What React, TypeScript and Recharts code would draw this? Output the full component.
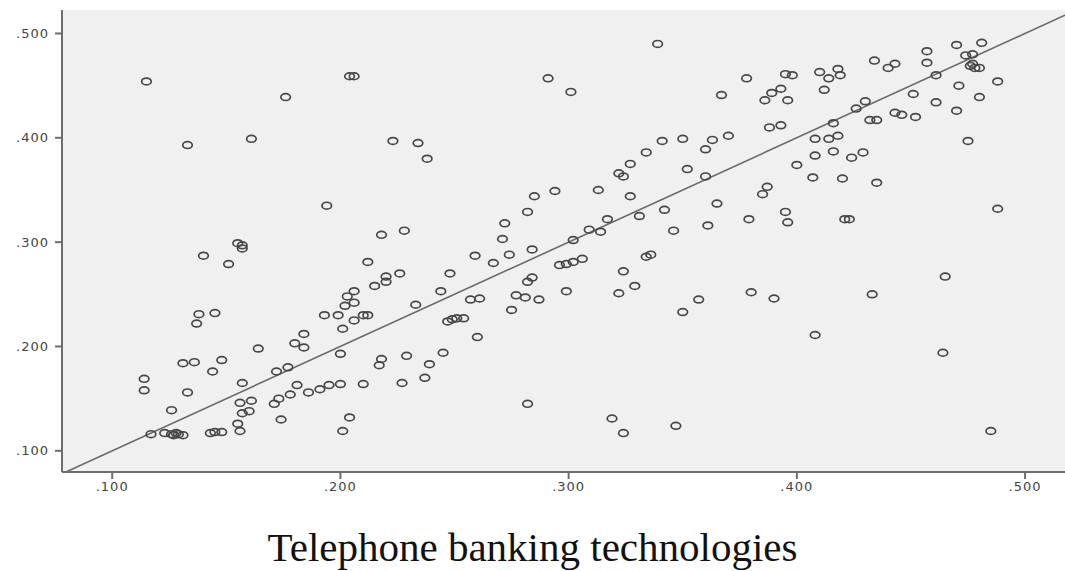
import { ScatterChart, Scatter, XAxis, YAxis, CartesianGrid, ReferenceLine } from "recharts";

// axis setup
const xTicks = [0.1, 0.2, 0.3, 0.4, 0.5];
const yTicks = [0.1, 0.2, 0.3, 0.4, 0.5];
const xDomain = [0.078, 0.5175];
const yDomain = [0.0797, 0.5225];
const diagonal = [
  { x: 0.0797, y: 0.0797 },
  { x: 0.5175, y: 0.5175 }
];
const axisTitle = "Telephone banking technologies";

// points, grouped by the part of the plot they were read from
const upperLeft = [
  [0.115, 0.454], [0.204, 0.459], [0.206, 0.459], [0.176, 0.439], [0.133, 0.393],
  [0.161, 0.399], [0.223, 0.397], [0.194, 0.335], [0.218, 0.307], [0.228, 0.311]
];

const upperMiddle = [
  [0.339, 0.49], [0.291, 0.457], [0.301, 0.444], [0.367, 0.441], [0.234, 0.395],
  [0.238, 0.38], [0.341, 0.397], [0.35, 0.399], [0.363, 0.398], [0.37, 0.402],
  [0.334, 0.386], [0.36, 0.389], [0.327, 0.375], [0.322, 0.366], [0.324, 0.363],
  [0.352, 0.37], [0.36, 0.363], [0.313, 0.35], [0.294, 0.349], [0.285, 0.344],
  [0.327, 0.344], [0.282, 0.329], [0.365, 0.337], [0.342, 0.331], [0.331, 0.325],
  [0.317, 0.322], [0.272, 0.318], [0.271, 0.303], [0.309, 0.312], [0.314, 0.31],
  [0.346, 0.311], [0.361, 0.316], [0.302, 0.302]
];

const upperRight = [
  [0.47, 0.489], [0.481, 0.491], [0.457, 0.483], [0.434, 0.474], [0.443, 0.471],
  [0.44, 0.467], [0.457, 0.472], [0.474, 0.479], [0.477, 0.48], [0.476, 0.469],
  [0.478, 0.467], [0.477, 0.471], [0.48, 0.467], [0.488, 0.454], [0.471, 0.45],
  [0.48, 0.439], [0.461, 0.46], [0.451, 0.442], [0.461, 0.434], [0.47, 0.426],
  [0.475, 0.397], [0.488, 0.332], [0.452, 0.42], [0.443, 0.424], [0.446, 0.422],
  [0.432, 0.417], [0.435, 0.417], [0.43, 0.435], [0.426, 0.428], [0.416, 0.414],
  [0.418, 0.402], [0.414, 0.399], [0.408, 0.399], [0.416, 0.387], [0.408, 0.383],
  [0.424, 0.381], [0.429, 0.386], [0.4, 0.374], [0.407, 0.362], [0.42, 0.361],
  [0.435, 0.357], [0.387, 0.353], [0.385, 0.346], [0.379, 0.322], [0.395, 0.329],
  [0.396, 0.319], [0.421, 0.322], [0.423, 0.322], [0.378, 0.457], [0.395, 0.461],
  [0.398, 0.46], [0.41, 0.463], [0.418, 0.466], [0.419, 0.46], [0.414, 0.457],
  [0.412, 0.446], [0.393, 0.447], [0.389, 0.443], [0.386, 0.436], [0.396, 0.436],
  [0.388, 0.41], [0.393, 0.412]
];

const lowerLeft = [
  [0.155, 0.299], [0.157, 0.297], [0.157, 0.294], [0.14, 0.287], [0.151, 0.279],
  [0.212, 0.281], [0.22, 0.267], [0.226, 0.27], [0.215, 0.258], [0.22, 0.262],
  [0.206, 0.253], [0.203, 0.248], [0.206, 0.242], [0.202, 0.239], [0.193, 0.23],
  [0.199, 0.23], [0.21, 0.23], [0.212, 0.23], [0.206, 0.225], [0.201, 0.217],
  [0.184, 0.212], [0.18, 0.203], [0.184, 0.199], [0.164, 0.198], [0.138, 0.231],
  [0.145, 0.232], [0.137, 0.222], [0.2, 0.193], [0.218, 0.188], [0.217, 0.182],
  [0.227, 0.165], [0.131, 0.184], [0.136, 0.185], [0.148, 0.187], [0.144, 0.176],
  [0.172, 0.176], [0.177, 0.18], [0.114, 0.169], [0.114, 0.158], [0.133, 0.156],
  [0.157, 0.165], [0.181, 0.163], [0.186, 0.156], [0.191, 0.159], [0.195, 0.163],
  [0.2, 0.164], [0.21, 0.164], [0.178, 0.154], [0.173, 0.15], [0.171, 0.145],
  [0.156, 0.146], [0.161, 0.148], [0.157, 0.136], [0.16, 0.138], [0.155, 0.126],
  [0.156, 0.119], [0.174, 0.13], [0.204, 0.132], [0.201, 0.119], [0.126, 0.139],
  [0.117, 0.116], [0.123, 0.117], [0.126, 0.116], [0.127, 0.115], [0.128, 0.117],
  [0.129, 0.116], [0.131, 0.115], [0.143, 0.117], [0.145, 0.118], [0.148, 0.118]
];

const lowerMiddle = [
  [0.259, 0.287], [0.274, 0.288], [0.284, 0.293], [0.267, 0.28], [0.248, 0.27],
  [0.244, 0.253], [0.233, 0.24], [0.257, 0.245], [0.261, 0.246], [0.247, 0.224],
  [0.249, 0.226], [0.251, 0.227], [0.254, 0.227], [0.284, 0.266], [0.282, 0.262],
  [0.277, 0.249], [0.281, 0.247], [0.287, 0.245], [0.275, 0.235], [0.296, 0.278],
  [0.299, 0.279], [0.302, 0.281], [0.306, 0.284], [0.299, 0.253], [0.334, 0.286],
  [0.336, 0.288], [0.324, 0.272], [0.329, 0.258], [0.322, 0.251], [0.357, 0.245],
  [0.35, 0.233], [0.26, 0.209], [0.229, 0.191], [0.245, 0.194], [0.239, 0.183],
  [0.237, 0.17], [0.282, 0.145], [0.319, 0.131], [0.324, 0.117], [0.347, 0.124]
];

const lowerRight = [
  [0.38, 0.252], [0.39, 0.246], [0.433, 0.25], [0.408, 0.211], [0.465, 0.267],
  [0.464, 0.194], [0.485, 0.119]
];

const points = [...upperLeft, ...upperMiddle, ...upperRight, ...lowerLeft, ...lowerMiddle, ...lowerRight].map(
  ([x, y]) => ({ x, y })
);

const fmt = (v: number) => v.toFixed(3).replace(/^0/, "");
const tickStyle = {
  fill: "#444",
  fontSize: 13,
  letterSpacing: 1,
  fontFamily: "'DejaVu Sans', Arial, sans-serif"
};
const axisStroke = { stroke: "#6e6e6e", strokeWidth: 2 };

const Ring = (props: any) => (
  <ellipse cx={props.cx} cy={props.cy} rx={4.8} ry={3.4} fill="none" stroke="#474747" strokeWidth={1.7} />
);

export default function App() {
  return (
    <div style={{ position: "absolute", left: 0, top: 0, width: 1065, height: 571, background: "#fff" }}>
      <ScatterChart width={1065} height={500} margin={{ top: 10, right: 0, bottom: 0, left: 0 }}>
        <CartesianGrid fill="#f0f0f0" horizontal={false} vertical={false} />
        <XAxis
          xAxisId="top"
          orientation="top"
          type="number"
          dataKey="x"
          domain={xDomain}
          allowDataOverflow
          tick={false}
          tickLine={false}
          height={0}
          axisLine={{ stroke: "#a8a8a8", strokeWidth: 2 }}
        />
        <XAxis
          type="number"
          dataKey="x"
          domain={xDomain}
          allowDataOverflow
          ticks={xTicks}
          tickFormatter={fmt}
          tick={tickStyle}
          tickSize={7}
          tickMargin={3}
          height={28}
          axisLine={axisStroke}
          tickLine={axisStroke}
        />
        <YAxis
          type="number"
          dataKey="y"
          domain={yDomain}
          allowDataOverflow
          ticks={yTicks}
          tickFormatter={fmt}
          tick={tickStyle}
          tickSize={7}
          tickMargin={6}
          width={62}
          axisLine={axisStroke}
          tickLine={axisStroke}
        />
        <ReferenceLine segment={diagonal} stroke="#6a6a6a" strokeWidth={1.6} ifOverflow="hidden" />
        <Scatter data={points} shape={Ring} isAnimationActive={false} />
      </ScatterChart>
      <div
        style={{
          position: "absolute",
          left: 0,
          top: 527,
          width: 1065,
          textAlign: "center",
          fontFamily: "'Liberation Serif', 'Times New Roman', serif",
          fontSize: 41,
          lineHeight: "40px",
          color: "#111"
        }}
      >
        {axisTitle}
      </div>
    </div>
  );
}
